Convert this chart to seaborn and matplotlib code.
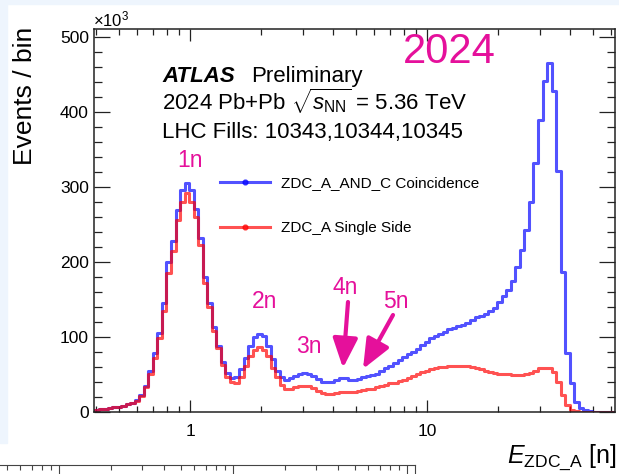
import numpy as np
import pandas as pd
import matplotlib
matplotlib.use("Agg")
import matplotlib.pyplot as plt
import seaborn as sns
from matplotlib.ticker import FixedLocator, FixedFormatter, MultipleLocator, NullFormatter
from matplotlib.patches import Rectangle
from matplotlib.lines import Line2D

# ---------------- data (counts in units of 10^3 per bin) ----------------
XMIN, XMAX = 0.3935, 62.1
N_BINS = 115
coincidence = [3, 4, 4, 5, 6, 7, 8, 10, 12, 16,
               22, 35, 54, 78, 105, 145, 200, 228, 269, 296,
               305, 295, 270, 232, 180, 145, 113, 88, 66, 52,
               45, 47, 57, 72, 88, 100, 104, 101, 88, 70,
               54, 46, 43, 45, 48, 51, 52, 51, 48, 44,
               40, 40, 40, 43, 45, 45, 42, 42, 44, 47,
               48, 49, 51, 55, 58, 61, 65, 69, 73, 77,
               80, 84, 89, 93, 98, 101, 104, 107, 110, 112,
               114, 116, 119, 123, 126, 128, 131, 135, 139, 147,
               155, 163, 175, 193, 216, 242, 280, 332, 389, 441,
               465, 428, 321, 187, 79, 39, 13, 5, 3, 1,
               0, 0, 0, 0, 0]
single_side = [3, 4, 4, 5, 6, 7, 8, 10, 12, 15,
               21, 33, 50, 72, 98, 135, 185, 215, 256, 280,
               291, 280, 259, 222, 172, 140, 108, 85, 63, 47,
               40, 38, 47, 61, 75, 83, 86, 83, 75, 59,
               47, 36, 30, 31, 33, 34, 35, 34, 32, 28,
               25, 24, 24, 25, 27, 27, 27, 27, 28, 29,
               30, 31, 33, 34, 36, 38, 39, 41, 43, 45,
               48, 50, 53, 55, 57, 58, 60, 60, 61, 61,
               61, 61, 61, 60, 59, 57, 55, 53, 52, 51,
               51, 50, 49, 49, 49, 50, 52, 55, 58, 59,
               58, 53, 40, 23, 9, 3, 1, 0, 0, 0,
               0, 0, 0, 0, 0]
series_labels = ["ZDC_A_AND_C Coincidence", "ZDC_A Single Side"]
peak_labels = ["1n", "2n", "3n", "4n", "5n"]
x_major = [1, 10]
x_major_labels = ["1", "10"]
x_minor = [0.4, 0.5, 0.6, 0.7, 0.8, 0.9, 2, 3, 4, 5, 6, 7, 8, 9, 20, 30, 40, 50, 60]

log_edges = np.linspace(np.log10(XMIN), np.log10(XMAX), N_BINS + 1)
centers = 10 ** (0.5 * (log_edges[:-1] + log_edges[1:]))
df_coinc = pd.DataFrame({"E": centers, "count": coincidence})
df_single = pd.DataFrame({"E": centers, "count": single_side})

# ---------------- style ----------------
W, H = 619, 474
MAG = "#E5109B"
plt.rcParams["font.family"] = ["Liberation Sans", "DejaVu Sans"]
plt.rcParams["mathtext.fontset"] = "custom"
plt.rcParams["mathtext.rm"] = "Liberation Sans"
plt.rcParams["mathtext.it"] = "Liberation Sans:italic"
plt.rcParams["mathtext.bf"] = "Liberation Sans:bold"

fig = plt.figure(figsize=(W / 100, H / 100), dpi=100)
fig.patch.set_facecolor("white")
fig.patches.append(Rectangle((0, (H - 443) / H), 7 / W, 443 / H, transform=fig.transFigure,
                             color="#EEF5FD", zorder=0))
fig.patches.append(Rectangle((0, (H - 4) / H), 1, 4 / H, transform=fig.transFigure,
                             color="#EEF5FD", zorder=0))

ax = fig.add_axes([94 / W, (H - 412) / H, (615 - 94) / W, (412 - 29) / H])

binrange = (np.log10(XMIN), np.log10(XMAX))
sns.histplot(data=df_coinc, x="E", weights="count", bins=N_BINS, binrange=binrange,
             log_scale=True, element="step", fill=False,
             color="#0000FF", alpha=0.68, linewidth=2.2, ax=ax)
sns.histplot(data=df_single, x="E", weights="count", bins=N_BINS, binrange=binrange,
             log_scale=True, element="step", fill=False,
             color="#FF0000", alpha=0.68, linewidth=2.2, ax=ax)

ax.set_xlim(XMIN, XMAX)
ax.set_ylim(0, 510)
ax.set_xlabel("")
ax.set_ylabel("")

ax.xaxis.set_major_locator(FixedLocator(x_major))
ax.xaxis.set_major_formatter(FixedFormatter(x_major_labels))
ax.xaxis.set_minor_locator(FixedLocator(x_minor))
ax.xaxis.set_minor_formatter(NullFormatter())
ax.yaxis.set_major_locator(MultipleLocator(100))
ax.yaxis.set_minor_locator(MultipleLocator(20))

for s in ax.spines.values():
    s.set_color("#222222")
    s.set_linewidth(1.1)
ax.tick_params(which="both", direction="in", top=True, right=True, color="#222222",
               width=0.9, labelsize=12.5)
ax.tick_params(axis="y", which="major", length=11.5, pad=3.6)
ax.tick_params(axis="y", which="minor", length=5.8)
ax.tick_params(axis="x", which="major", length=8.6, pad=9)
ax.tick_params(axis="x", which="minor", length=4.3)

# legend
handles = [Line2D([0], [0], color="#0000FF", alpha=0.68, lw=2.2, marker="o", ms=3.5),
           Line2D([0], [0], color="#FF0000", alpha=0.68, lw=2.2, marker="o", ms=3.5)]
ax.legend(handles, series_labels, loc="upper left", bbox_to_anchor=(220 / W, 1 - 176 / H),
          bbox_transform=fig.transFigure, frameon=False, fontsize=11, handlelength=3.3,
          handletextpad=0.7, labelspacing=2.05, borderpad=0, borderaxespad=0)

# texts
def ft(px, py, s, **kw):
    return fig.text(px / W, 1 - py / H, s, **kw)

ft(93, 26, r"$\times10^{3}$", fontsize=12, ha="left", va="baseline")
ft(162, 82, "ATLAS", fontsize=16, fontweight="bold", fontstyle="italic", va="baseline")
ft(251, 82, "Preliminary", fontsize=16, va="baseline")
ft(162, 110, r"2024 Pb+Pb $\sqrt{s_{\mathrm{NN}}}$ = 5.36 TeV", fontsize=16, va="baseline")
ft(162, 138, "LHC Fills: 10343,10344,10345", fontsize=16, va="baseline")
ft(403, 63, "2024", fontsize=30, color=MAG, va="baseline")

peak_pos = [(177, 167), (252, 308), (296, 353), (333, 294), (383, 308)]
for lab, (px, py) in zip(peak_labels, peak_pos):
    ft(px, py, lab, fontsize=16.5, color=MAG, va="baseline")

for (x0, y0), (x1, y1) in [((348, 302), (343, 368)), ((393, 315), (363, 369))]:
    ax.annotate("", xy=(x1, H - y1), xytext=(x0, H - y0), xycoords="figure pixels",
                textcoords="figure pixels",
                arrowprops=dict(arrowstyle="-|>,head_length=0.9,head_width=0.38",
                                mutation_scale=20, lw=3, color=MAG, shrinkA=0, shrinkB=0))

ft(25, 27, "Events / bin", fontsize=19, rotation=90, ha="center", va="top")
ft(617, 463, r"$E_{\mathrm{ZDC\_A}}$ [n]", fontsize=18, ha="right", va="baseline")

# partial lower panel frame (next plot in the screenshot)
ax2 = fig.add_axes([0, (H - 520) / H, 415 / W, 55 / H])
ax2.set_xscale("log")
ax2.set_xlim(0.458, 111.2)
ax2.set_yticks([])
for k in ["left", "bottom"]:
    ax2.spines[k].set_visible(False)
for k in ["top", "right"]:
    ax2.spines[k].set_color("#444444")
    ax2.spines[k].set_linewidth(0.8)
ax2.tick_params(which="both", direction="in", top=True, bottom=False, labelbottom=False,
                color="#444444", width=0.8)
ax2.tick_params(which="major", length=6.5)
ax2.tick_params(which="minor", length=3.6)

fig.savefig("out.png", dpi=100)
